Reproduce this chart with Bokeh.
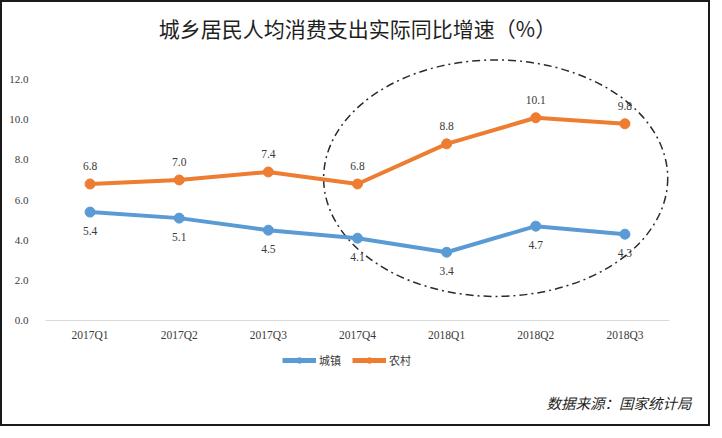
from bokeh.plotting import figure
from bokeh.layouts import column
from bokeh.models import ColumnDataSource, FactorRange, FixedTicker, Label, Legend, LegendItem
from bokeh.core.properties import value
from bokeh.embed import file_html
from bokeh.resources import INLINE

# data
quarters = ["2017Q1", "2017Q2", "2017Q3", "2017Q4", "2018Q1", "2018Q2", "2018Q3"]
urban = [5.4, 5.1, 4.5, 4.1, 3.4, 4.7, 4.3]
rural = [6.8, 7.0, 7.4, 6.8, 8.8, 10.1, 9.8]
y_ticks = [0, 2, 4, 6, 8, 10, 12]

title_text = "城乡居民人均消费支出实际同比增速（%）"
source_text = "数据来源：国家统计局"

BLUE = "#5B9BD5"
ORANGE = "#ED7D31"
TEXT = "#3a3a3a"
SERIF = value("Liberation Serif")
CJK = "Noto Sans CJK SC"

# highlight ellipse (synthetic categorical coords)
ell_x, ell_y, ell_w, ell_h = 5.05, 7.09, 3.86, 11.78

src = ColumnDataSource(data=dict(
    q=quarters,
    urban=urban,
    rural=rural,
    urban_lbl=["%.1f" % v for v in urban],
    rural_lbl=["%.1f" % v for v in rural],
))

p = figure(width=706, height=346, x_range=FactorRange(factors=quarters), y_range=(0, 13.5),
           output_backend="svg", toolbar_location=None,
           min_border_left=43, min_border_right=39, min_border_top=47, min_border_bottom=28)
p.outline_line_color = None
p.xgrid.grid_line_color = None
p.ygrid.grid_line_color = None

p.title.text = title_text
p.title.text_font = CJK
p.title.text_font_size = "21px"
p.title.text_font_style = "normal"
p.title.text_color = "#1f1f1f"
p.title.align = "center"
p.title.offset = -15
p.title.standoff = 14

p.xaxis.axis_line_color = "#D9D9D9"
p.xaxis.major_tick_line_color = None
p.xaxis.minor_tick_line_color = None
p.xaxis.major_label_standoff = 2
p.xaxis.major_label_text_font = "Liberation Serif"
p.xaxis.major_label_text_font_size = "11.5px"
p.xaxis.major_label_text_color = TEXT

p.yaxis.ticker = FixedTicker(ticks=y_ticks)
p.yaxis.major_label_overrides = {t: "%.1f" % t for t in y_ticks}
p.yaxis.axis_line_color = None
p.yaxis.major_tick_line_color = None
p.yaxis.minor_tick_line_color = None
p.yaxis.major_label_standoff = 11
p.yaxis.major_label_text_font = "Liberation Serif"
p.yaxis.major_label_text_font_size = "11px"
p.yaxis.major_label_text_color = TEXT

p.ellipse(x=[ell_x], y=[ell_y], width=ell_w, height=ell_h, fill_color=None,
          line_color="#2b2b2b", line_width=1.5, line_dash="8 4 2 4")

p.line("q", "urban", source=src, line_color=BLUE, line_width=4)
p.scatter("q", "urban", source=src, size=10, fill_color=BLUE, line_color=BLUE)
p.line("q", "rural", source=src, line_color=ORANGE, line_width=4)
p.scatter("q", "rural", source=src, size=10, fill_color=ORANGE, line_color=ORANGE)

p.text("q", "rural", text="rural_lbl", source=src, text_font=SERIF, text_font_size="11.5px",
       text_color=TEXT, text_align="center", text_baseline="middle", y_offset=-18)
p.text("q", "urban", text="urban_lbl", source=src, text_font=SERIF, text_font_size="11.5px",
       text_color=TEXT, text_align="center", text_baseline="middle", y_offset=19)

# footer strip: legend + source note (series drawn out of view, only used by the legend)
f = figure(width=706, height=76, x_range=FactorRange(factors=quarters), y_range=(100, 101),
           output_backend="svg", toolbar_location=None, x_axis_location=None, y_axis_location=None,
           min_border_left=0, min_border_right=0, min_border_top=0, min_border_bottom=0)
f.outline_line_color = None
f.xgrid.grid_line_color = None
f.ygrid.grid_line_color = None

# column() lines up plot frames; switch that off so the footer frame spans the full width
shift = 43
if "frame_align" in f.properties():
    f.frame_align = False
    p.frame_align = False
    shift = 0

u_line = f.line("q", "urban", source=src, line_color=BLUE, line_width=5)
u_dot = f.scatter("q", "urban", source=src, size=8, fill_color=BLUE, line_color=BLUE)
r_line = f.line("q", "rural", source=src, line_color=ORANGE, line_width=5)
r_dot = f.scatter("q", "rural", source=src, size=8, fill_color=ORANGE, line_color=ORANGE)

legend = Legend(items=[LegendItem(label="城镇", renderers=[u_line, u_dot]),
                       LegendItem(label="农村", renderers=[r_line, r_dot])],
                location=(280 - shift, 56), orientation="horizontal",
                padding=0, margin=0, spacing=11, glyph_width=34, glyph_height=14,
                label_height=14, label_standoff=3, border_line_color=None,
                background_fill_alpha=0,
                label_text_font=CJK, label_text_font_size="11px", label_text_color=TEXT)
f.add_layout(legend)

f.add_layout(Label(x=689 - shift, y=22, x_units="screen", y_units="screen", text=source_text,
                   text_font=CJK, text_font_size="14.5px", text_font_style="italic",
                   text_color="#1f1f1f", text_align="right", text_baseline="middle"))

layout = column(p, f, spacing=0, styles={"border": "2px solid #1a1a1a"})

open("out.html", "w").write(file_html(layout, INLINE))
